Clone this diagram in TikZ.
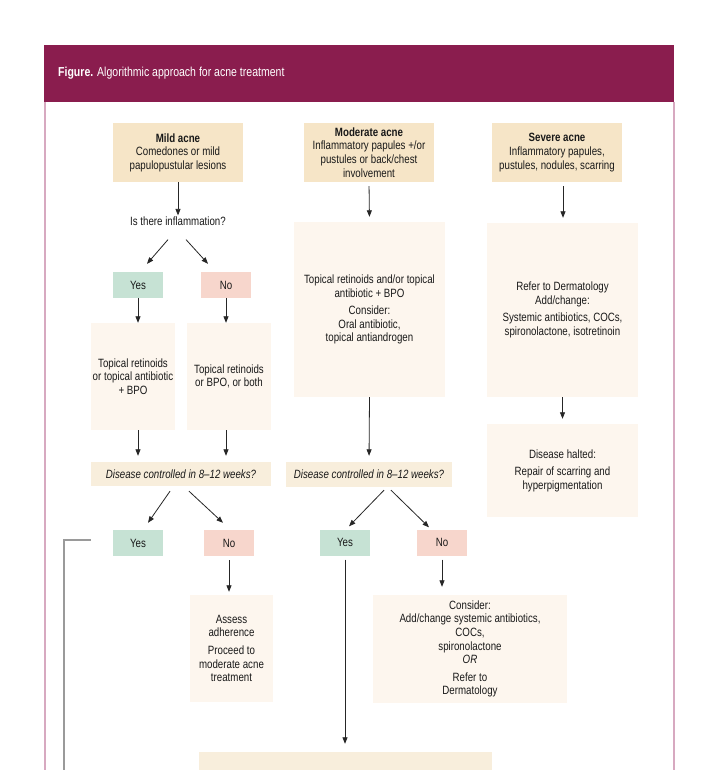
\documentclass[tikz,border=0pt]{standalone}
\usepackage{fontspec}
\setmainfont{Liberation Sans}[FakeStretch=0.81]
\usetikzlibrary{arrows.meta,calc}
\definecolor{hdr}{HTML}{8A1D4E}
\definecolor{bordc}{HTML}{D7A9C0}
\definecolor{tanc}{HTML}{F6E5C7}
\definecolor{lightc}{HTML}{FDF6EE}
\definecolor{qc}{HTML}{F8EEDC}
\definecolor{yesc}{HTML}{C6E2D4}
\definecolor{noc}{HTML}{F7D6CC}
\definecolor{retc}{HTML}{9A9A9A}
\begin{document}
\begin{tikzpicture}[x=1pt,y=-1pt,
  base/.style={align=center, inner sep=0pt, font=\fontsize{12}{13.6}\selectfont, text=black!90},
  sevbox/.style={base, fill=tanc, minimum width=130pt, minimum height=59pt},
  lbox/.style={base, fill=lightc},
  qbox/.style={base, fill=qc, font=\fontsize{12}{13.6}\selectfont\itshape},
  yesbox/.style={base, fill=yesc, minimum width=50pt, minimum height=26pt},
  nobox/.style={base, fill=noc, minimum width=50pt, minimum height=26pt},
  arr/.style={draw=black!85, line width=0.8pt, -{Triangle[length=6.5pt,width=5pt]}},
  retline/.style={draw=retc, line width=1.2pt},
  bord/.style={draw=bordc, line width=1.5pt}]
\useasboundingbox (0,0) rectangle (720,770);
\fill[white] (0,0) rectangle (720,770);
% header and frame
\fill[hdr] (44,45) rectangle (674,102);
\draw[bord] (45,102) -- (45,775);
\draw[bord] (674,102) -- (674,775);
\node[anchor=west, text=white, inner sep=0pt, font=\fontsize{13}{15}\selectfont] (title) at (58,73) {\textbf{Figure.} Algorithmic approach for acne treatment};

% top row
\node[sevbox] (mild) at (178,152.5) {\textbf{Mild acne}\\Comedones or mild\\papulopustular lesions};
\node[sevbox] (mod) at (369,152.5) {\textbf{Moderate acne}\\Inflammatory papules +/or\\pustules or back/chest\\involvement};
\node[sevbox] (sev) at (557,152.5) {\textbf{Severe acne}\\Inflammatory papules,\\pustules, nodules, scarring};

% mild column
\node[base] (inflam) at (178,221) {Is there inflammation?};
\node[yesbox] (yes1) at (138,285) {Yes};
\node[nobox] (no1) at (226,285) {No};
\node[lbox, minimum width=84pt, minimum height=107pt] (t1) at (133,376.5) {Topical retinoids\\or topical antibiotic\\+ BPO};
\node[lbox, minimum width=84pt, minimum height=107pt] (t2) at (229,376.5) {Topical retinoids\\or BPO, or both};
\node[qbox, minimum width=180pt, minimum height=24pt] (q1) at (181,474) {Disease controlled in 8--12 weeks?};
\node[yesbox] (yes2) at (138,543) {Yes};
\node[nobox] (no2) at (229,543) {No};
\node[lbox, minimum width=83pt, minimum height=107pt] (assess) at (231.5,648.5) {Assess\\adherence\\[4pt]Proceed to\\moderate acne\\treatment};

% moderate column
\node[lbox, minimum width=151pt, minimum height=175pt] (m1) at (369.5,309.5) {Topical retinoids and/or topical\\antibiotic + BPO\\[4pt]Consider:\\Oral antibiotic,\\topical antiandrogen};
\node[qbox, minimum width=166pt, minimum height=25pt] (q2) at (369,474.5) {Disease controlled in 8--12 weeks?};
\node[yesbox] (yes3) at (345,542.5) {Yes};
\node[nobox] (no3) at (442,542.5) {No};
\node[lbox, minimum width=194pt, minimum height=108pt] (consider) at (470,649) {Consider:\\Add/change systemic antibiotics,\\COCs,\\spironolactone\\\textit{OR}\\[4pt]Refer to\\Dermatology};
\node[base, fill=qc, minimum width=293pt, minimum height=48pt] (bottom) at (345.5,776) {};

% severe column
\node[lbox, minimum width=151pt, minimum height=174pt] (s1) at (562.5,310) {Refer to Dermatology\\Add/change:\\[4pt]Systemic antibiotics, COCs,\\spironolactone, isotretinoin};
\node[lbox, minimum width=151pt, minimum height=93pt] (halt) at (562.5,470.5) {Disease halted:\\[4pt]Repair of scarring and\\hyperpigmentation};

% arrows mild
\draw[arr, shorten >=1pt] (mild.south) -- (inflam.north);
\draw[arr] ($(inflam.south)+(-10,14)$) -- ($(yes1.north)+(9,-8)$);
\draw[arr] ($(inflam.south)+(8,14)$) -- ($(no1.north)+(-18,-8)$);
\draw[arr] (yes1.south) -- (yes1.south |- t1.north);
\draw[arr] (no1.south) -- (no1.south |- t2.north);
\draw[arr, shorten >=6pt] (yes1.south |- t1.south) -- (yes1.south |- q1.north);
\draw[arr, shorten >=6pt] (no1.south |- t2.south) -- (no1.south |- q1.north);
\draw[arr] ($(q1.south)+(-11,5)$) -- ($(yes2.north)+(10,-7)$);
\draw[arr] ($(q1.south)+(8,5)$) -- ($(no2.north)+(-6,-7)$);
\draw[arr, shorten <=4pt, shorten >=3pt] (no2.south) -- (no2.south |- assess.north);
\coordinate (r1) at ($(yes2.west)+(-22,-3)$);
\coordinate (r2) at (64,540);
\coordinate (r3) at (64,775);
\draw[retline] (r1) -- (r2) -- (r3);

% arrows moderate
\draw[arr, shorten <=4pt, shorten >=5pt] (mod.south) -- (m1.north);
\draw[arr, shorten >=6pt] (m1.south) -- (q2.north);
\draw[arr] ($(q2.south)+(15,3)$) -- ($(yes3.north)+(4,-3)$);
\draw[arr] ($(q2.south)+(22,3)$) -- ($(no3.north)+(-13,-2)$);
\draw[arr, shorten <=4pt, shorten >=8pt] (no3.south) -- (no3.south |- consider.north);
\draw[arr, shorten <=4pt, shorten >=8pt] (yes3.south) -- (yes3.south |- bottom.north);

% arrows severe
\coordinate (sevout) at ($(sev.south)+(6,0)$);
\draw[arr, shorten <=4pt, shorten >=5pt] (sevout) -- (sevout |- s1.north);
\draw[arr, shorten >=5pt] (s1.south) -- (halt.north);
\end{tikzpicture}
\end{document}
